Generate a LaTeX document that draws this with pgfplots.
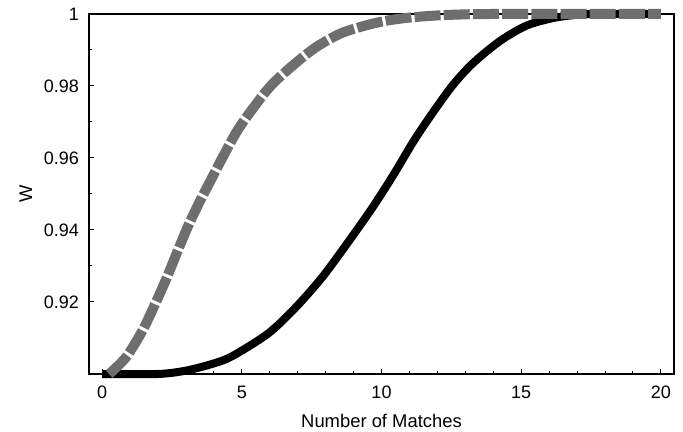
\documentclass[border=0pt]{standalone}
\usepackage{pgfplots}
\pgfplotsset{compat=1.18}
\usepackage{fontspec}
\setmainfont{Liberation Sans}
\definecolor{dashgray}{HTML}{6E6E6E}
\begin{document}
\begin{tikzpicture}
\begin{axis}[
  name=ax,
  scale only axis,
  width=292.5pt, height=180pt,
  xmin=-0.47, xmax=20.47,
  ymin=0.9, ymax=1.0,
  clip=false,
  axis line style={line width=1.1pt},
  xtick={0,5,10,15,20},
  xticklabels={0,5,10,15,20},
  ytick={0.92,0.94,0.96,0.98,1},
  yticklabels={0.92,0.94,0.96,0.98,1},
  minor x tick num=4,
  minor y tick num=1,
  xtick pos=bottom, ytick pos=left,
  tick align=inside,
  major tick length=2.5pt,
  minor tick length=1.5pt,
  tick style={line width=0.5pt, black},
  ticklabel style={font=\fontsize{9}{11}\selectfont},
  xticklabel style={yshift=-2.5pt},
  yticklabel style={xshift=-1.5pt},
  xlabel={Number of Matches},
  ylabel={W},
  label style={font=\fontsize{9.2}{11}\selectfont},
  xlabel style={yshift=-1pt},
  ylabel style={yshift=-1pt},
]
\addplot[black, line width=4pt, smooth] coordinates {
(0,0.9) (2,0.9) (3.1,0.9011) (4.3,0.9037) (5.0,0.9065) (6,0.9116) (6.93,0.9185) (7.88,0.9269) (8.84,0.937) (9.7,0.9465) (10.45,0.9556) (11.16,0.9648) (11.88,0.9731) (12.59,0.9806) (13.31,0.9866) (14.26,0.9926) (15.2,0.9968) (16.16,0.9989) (16.9,0.9997) (17.5,1) (20,1)
};
\addplot[dashgray, line width=5pt, smooth, dash pattern=on 13pt off 1.6pt] coordinates {
(0.25,0.900) (0.85,0.9046) (1.44,0.912) (1.9,0.9195) (2.3,0.9265) (2.72,0.9345) (3.1,0.9415) (3.5,0.948) (3.9,0.954) (4.3,0.960) (4.84,0.9676) (5.38,0.9736) (6.03,0.980) (6.81,0.9856) (7.64,0.9907) (8.54,0.9946) (9.43,0.9968) (10.15,0.9981) (11,0.9990) (12,0.9996) (13,0.9999) (14,1.0) (20,1.0)
};
\end{axis}
\pgfresetboundingbox
\path (ax.south west) ++(-44.5pt,-29pt) rectangle ++(341.5pt,216pt);
\end{tikzpicture}
\end{document}
